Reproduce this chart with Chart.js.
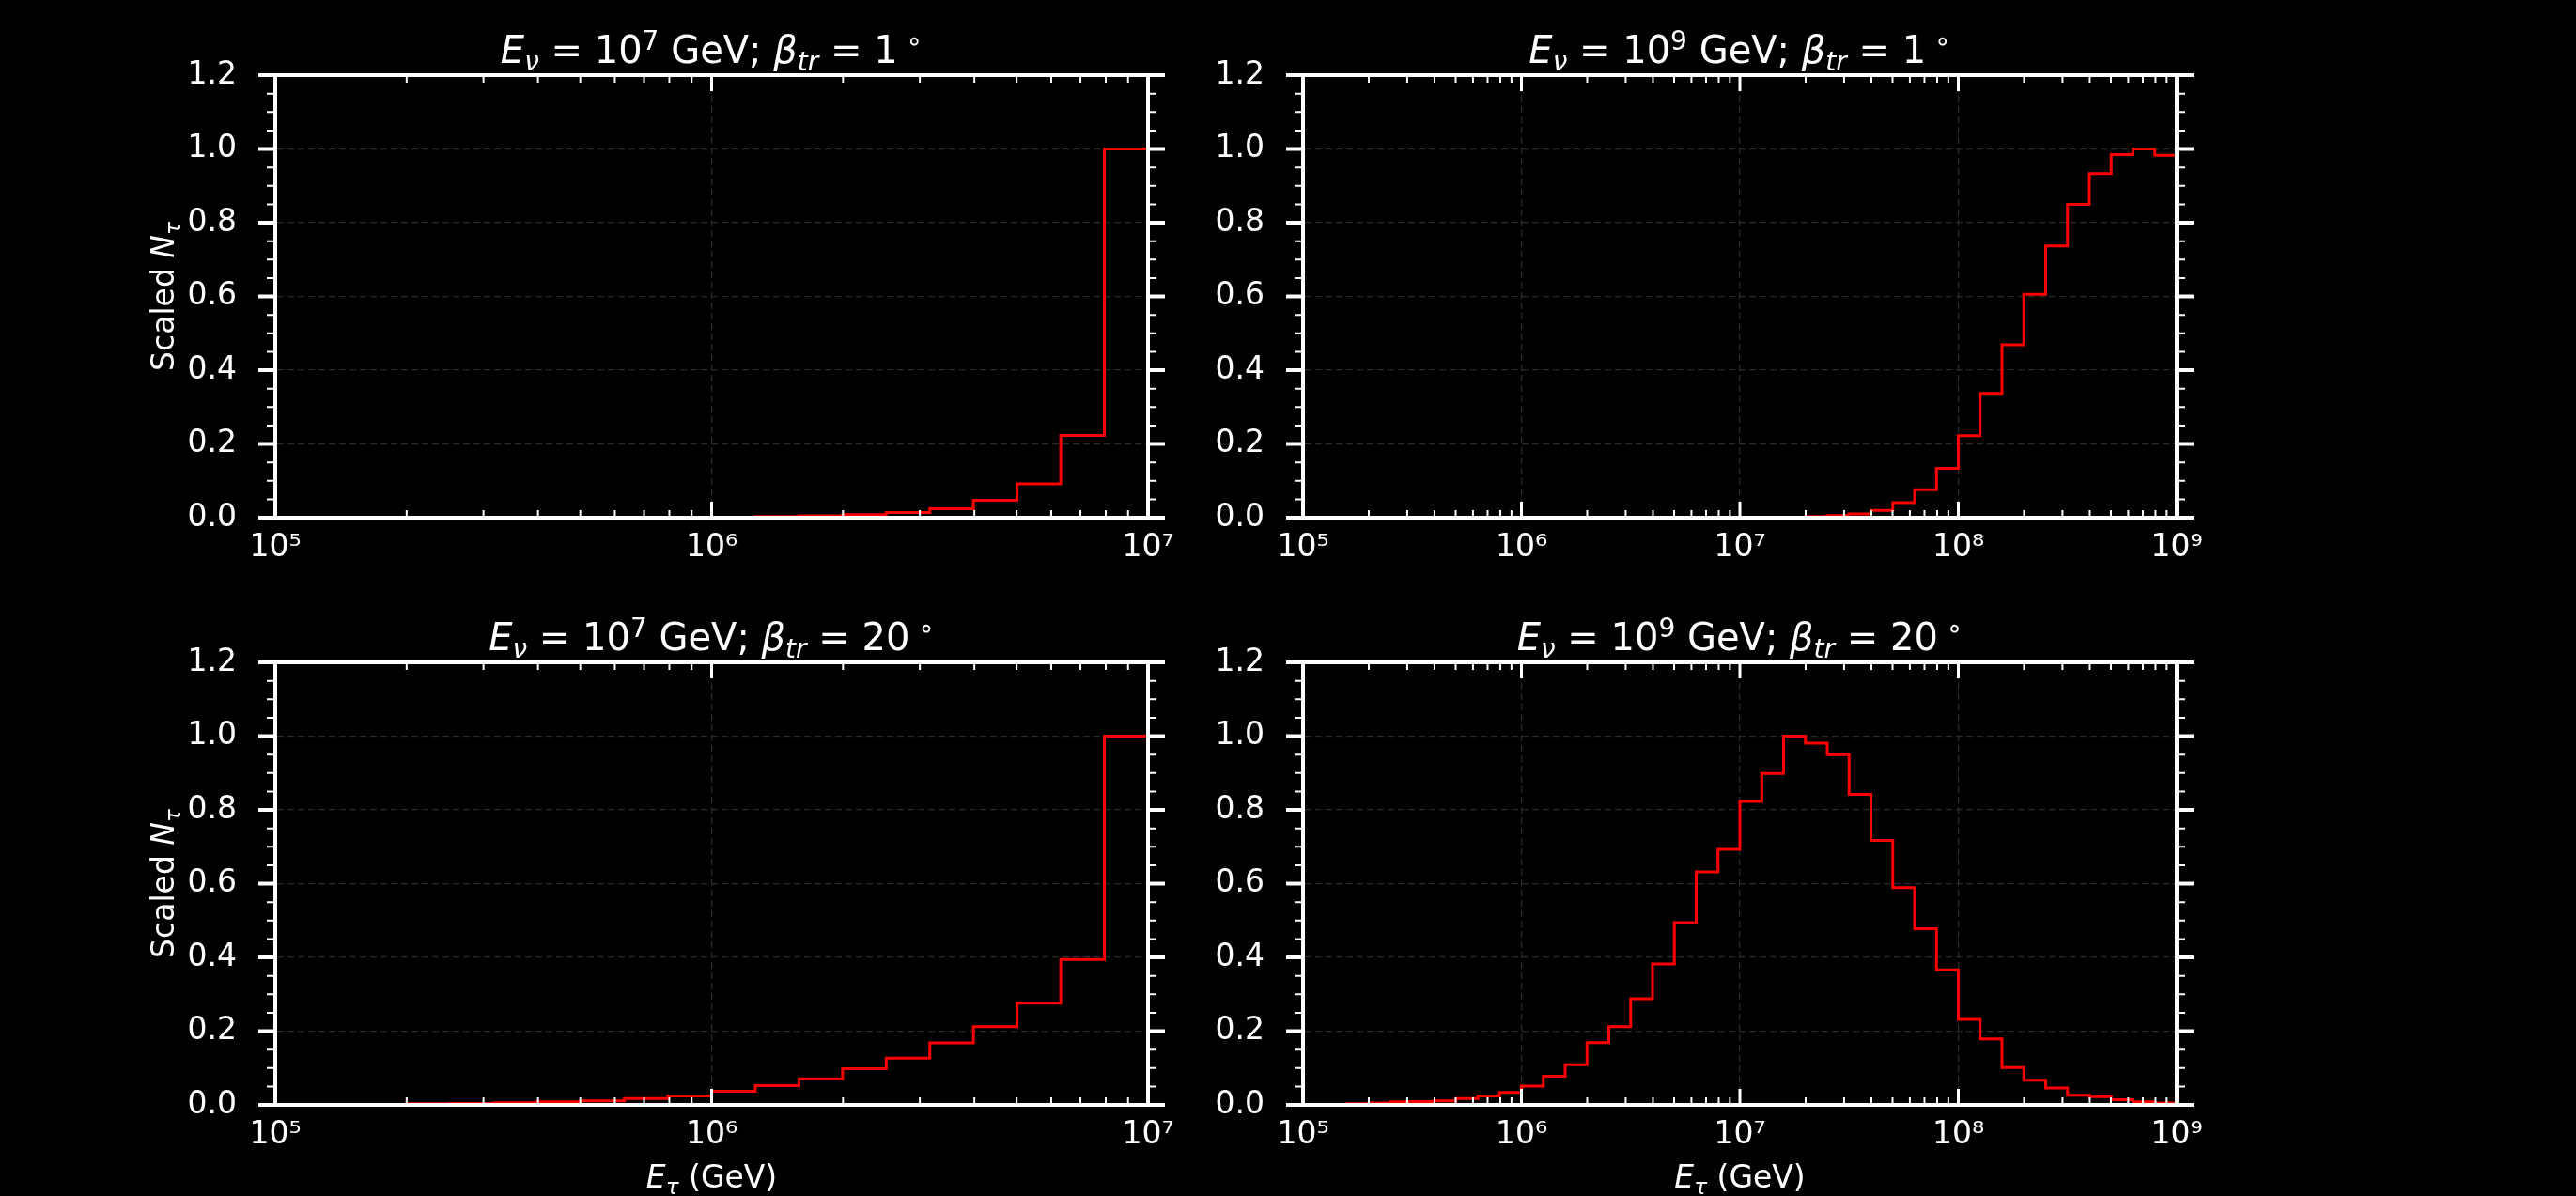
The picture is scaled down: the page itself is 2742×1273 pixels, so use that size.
<!DOCTYPE html>
<html>
<head>
<meta charset="utf-8">
<title>Scaled N_tau histograms</title>
<script src="https://cdn.jsdelivr.net/npm/chart.js@4.4.0/dist/chart.umd.min.js"></script>
<style>
  html, body { margin: 0; padding: 0; background: #000; overflow: hidden; }
  #wrap { position: relative; width: 2742px; height: 1273px; }
  #wrap canvas { position: absolute; left: 0; top: 0; }
</style>
</head>
<body>
<div id="wrap">
  <canvas id="tl" width="2742" height="1273"></canvas>
  <canvas id="tr" width="2742" height="1273"></canvas>
  <canvas id="bl" width="2742" height="1273"></canvas>
  <canvas id="br" width="2742" height="1273"></canvas>
</div>
<script>
// ---- data ----
// histogram bins are 0.1 dex wide in log10(E_tau / GeV)
const BIN_DEX = 0.1;

// E_nu = 1e7 GeV, beta_tr = 1 deg  (first bin starts at 10^6.0)
const tlStart = 6.0;
const tlValues = [0.001, 0.003, 0.005, 0.008, 0.014, 0.024, 0.047, 0.092, 0.223, 1.0];

// E_nu = 1e9 GeV, beta_tr = 1 deg  (first bin starts at 10^7.1)
const trStart = 7.1;
const trValues = [0.0005, 0.001, 0.003, 0.006, 0.010, 0.020, 0.041, 0.076, 0.134, 0.222,
                  0.337, 0.469, 0.606, 0.737, 0.850, 0.933, 0.985, 1.0, 0.983];

// E_nu = 1e7 GeV, beta_tr = 20 deg  (first bin starts at 10^5.2)
const blStart = 5.2;
const blValues = [0.001, 0.003, 0.004, 0.006, 0.008, 0.011, 0.017, 0.024, 0.037, 0.052,
                  0.071, 0.098, 0.127, 0.168, 0.212, 0.276, 0.394, 1.0];

// E_nu = 1e9 GeV, beta_tr = 20 deg  (first bin starts at 10^5.0)
const brStart = 5.0;
const brValues = [0.0005, 0.001, 0.003, 0.005, 0.008, 0.009, 0.011, 0.017, 0.024, 0.034,
                  0.051, 0.078, 0.109, 0.169, 0.212, 0.288, 0.382, 0.494, 0.632, 0.693,
                  0.823, 0.899, 1.0, 0.981, 0.950, 0.842, 0.717, 0.589, 0.478, 0.366,
                  0.232, 0.179, 0.101, 0.067, 0.046, 0.026, 0.022, 0.014, 0.008, 0.005];

// axis ticks
const xDecadesLow = [5, 6, 7];
const xTickLabelsLow = ['10⁵', '10⁶', '10⁷'];
const xDecadesHigh = [5, 6, 7, 8, 9];
const xTickLabelsHigh = ['10⁵', '10⁶', '10⁷', '10⁸', '10⁹'];
const yTickValues = [0, 0.2, 0.4, 0.6, 0.8, 1.0, 1.2];
const yTickLabels = ['0.0', '0.2', '0.4', '0.6', '0.8', '1.0', '1.2'];
const yMinorStep = 0.05;

// panel titles: E_nu exponent and beta_tr angle
const nuExponents = ['7', '9', '7', '9'];
const trAngles = ['1', '1', '20', '20'];

// ---- layout / style ----
const W = 2742, H = 1273;
const FAMILY = '"DejaVu Sans", sans-serif';
const TICK_SIZE = 33;
const TITLE_SIZE = 40;
const LABEL_SIZE = 33;
const GRID_COLOR = '#2a2a2a';
const Y_W = 140, Y2_W = 4, X_H = 60, X2_H = 4;

function titleSegs(exp, angle) {
    return [
        { t: 'E', it: true }, { t: 'ν', it: true, sub: true },
        { t: ' = 10' }, { t: exp, sup: true },
        { t: ' GeV; ' },
        { t: 'β', it: true }, { t: 'tr', it: true, sub: true },
        { t: ' = ' + angle }, { t: ' ∘', sup: true }
    ];
}
const yLabelSegs = [{ t: 'Scaled ' }, { t: 'N', it: true }, { t: 'τ', it: true, sub: true }];
const xLabelSegs = [{ t: 'E', it: true }, { t: 'τ', it: true, sub: true }, { t: ' (GeV)' }];

function drawRich(ctx, segs, x, y, size) {
    let total = 0;
    const parts = segs.map(s => {
        const fs = (s.sup || s.sub) ? size * 0.7 : size;
        const font = (s.it ? 'italic ' : '') + fs + 'px ' + FAMILY;
        ctx.font = font;
        const w = ctx.measureText(s.t).width;
        total += w;
        return { t: s.t, font, w, dy: s.sup ? -0.36 * size : (s.sub ? 0.2 * size : 0) };
    });
    let cx = x - total / 2;
    ctx.textAlign = 'left';
    ctx.textBaseline = 'alphabetic';
    ctx.fillStyle = '#fff';
    parts.forEach(p => {
        ctx.font = p.font;
        ctx.fillText(p.t, cx, y + p.dy);
        cx += p.w;
    });
}

function logTicks(decades) {
    const out = [];
    for (let i = 0; i < decades.length; i++) {
        const base = Math.pow(10, decades[i]);
        out.push({ value: base, major: true });
        if (i < decades.length - 1) {
            for (let m = 2; m <= 9; m++) out.push({ value: m * base, major: false });
        }
    }
    return out;
}

function linTicks() {
    const out = [];
    const n = Math.round(1.2 / yMinorStep);
    for (let i = 0; i <= n; i++) {
        const v = Math.round(i * yMinorStep * 100) / 100;
        out.push({ value: v, major: i % 4 === 0 });
    }
    return out;
}

// ticks: x ticks point into the axes, y ticks point outward (both sides)
const frameTicks = {
    id: 'frameTicks',
    afterDraw(chart) {
        const ctx = chart.ctx, ca = chart.chartArea;
        const xs = chart.scales.x, ys = chart.scales.y;
        ctx.save();
        ctx.strokeStyle = '#fff';
        xs.ticks.forEach(t => {
            const px = xs.getPixelForValue(t.value);
            const len = t.major ? 17 : 8;
            ctx.lineWidth = t.major ? 3 : 2;
            ctx.beginPath();
            ctx.moveTo(px, ca.bottom); ctx.lineTo(px, ca.bottom - len);
            ctx.moveTo(px, ca.top); ctx.lineTo(px, ca.top + len);
            ctx.stroke();
        });
        ys.ticks.forEach(t => {
            const py = ys.getPixelForValue(t.value);
            const len = t.major ? 18 : 9;
            ctx.lineWidth = t.major ? 4 : 2;
            ctx.beginPath();
            ctx.moveTo(ca.left, py); ctx.lineTo(ca.left - len, py);
            ctx.moveTo(ca.right, py); ctx.lineTo(ca.right + len, py);
            ctx.stroke();
        });
        const o = chart.options.plugins.frameTicks;
        drawRich(ctx, o.title, (ca.left + ca.right) / 2, ca.top - 13, TITLE_SIZE);
        if (o.yLabel) {
            ctx.save();
            ctx.translate(185, (ca.top + ca.bottom) / 2);
            ctx.rotate(-Math.PI / 2);
            drawRich(ctx, yLabelSegs, 0, 0, LABEL_SIZE);
            ctx.restore();
        }
        if (o.xLabel) {
            drawRich(ctx, xLabelSegs, (ca.left + ca.right) / 2, 1264, LABEL_SIZE);
        }
        ctx.restore();
    }
};

function makePanel(p) {
    const edge = i => Math.pow(10, Math.round((p.start + i * BIN_DEX) * 10) / 10);
    const n = p.values.length;
    const pts = [{ x: edge(0), y: 0 }];
    p.values.forEach((v, i) => pts.push({ x: edge(i), y: v }));
    pts.push({ x: edge(n), y: p.values[n - 1] });
    pts.push({ x: edge(n), y: 0 });

    const xMin = Math.pow(10, p.decades[0]);
    const xMax = Math.pow(10, p.decades[p.decades.length - 1]);
    const tickFont = { family: FAMILY, size: TICK_SIZE };

    return new Chart(document.getElementById(p.id), {
        type: 'line',
        data: {
            datasets: [{
                data: pts,
                borderColor: '#ff0000',
                borderWidth: 3,
                pointRadius: 0,
                stepped: 'before',
                fill: false,
                tension: 0
            }]
        },
        options: {
            responsive: false,
            animation: false,
            devicePixelRatio: 1,
            events: [],
            layout: {
                padding: {
                    left: p.box.l - Y_W,
                    right: W - p.box.r - Y2_W,
                    top: p.box.t - X2_H,
                    bottom: H - p.box.b - X_H
                }
            },
            plugins: {
                legend: { display: false },
                tooltip: { enabled: false },
                frameTicks: { title: p.title, yLabel: p.yLabel, xLabel: p.xLabel }
            },
            scales: {
                x: {
                    type: 'logarithmic',
                    position: 'bottom',
                    min: xMin, max: xMax,
                    afterBuildTicks: s => { s.ticks = logTicks(p.decades); },
                    afterFit: s => { s.height = X_H; },
                    ticks: {
                        autoSkip: false, maxRotation: 0, minRotation: 0,
                        padding: 13, color: '#fff', font: tickFont,
                        callback: (v, i, t) => {
                            if (!t[i].major) return '';
                            const k = p.decades.indexOf(Math.round(Math.log10(v)));
                            return p.xLabels[k];
                        }
                    },
                    grid: {
                        drawTicks: false,
                        lineWidth: 1.3,
                        color: c => (c.tick && c.tick.major) ? GRID_COLOR : 'rgba(0,0,0,0)'
                    },
                    border: { color: '#fff', width: 4, dash: [7, 4], z: 1 }
                },
                x2: {
                    type: 'logarithmic',
                    position: 'top',
                    min: xMin, max: xMax,
                    afterFit: s => { s.height = X2_H; },
                    ticks: { display: false },
                    grid: { display: false, drawTicks: false },
                    border: { color: '#fff', width: 4, z: 1 }
                },
                y: {
                    type: 'linear',
                    position: 'left',
                    min: 0, max: 1.2,
                    afterBuildTicks: s => { s.ticks = linTicks(); },
                    afterFit: s => { s.width = Y_W; },
                    ticks: {
                        autoSkip: false, padding: 41, color: '#fff', font: tickFont,
                        callback: (v, i, t) => {
                            if (!t[i].major) return '';
                            const k = yTickValues.findIndex(y => Math.abs(y - v) < 1e-6);
                            return yTickLabels[k];
                        }
                    },
                    grid: {
                        drawTicks: false,
                        lineWidth: 1.3,
                        color: c => (c.tick && c.tick.major) ? GRID_COLOR : 'rgba(0,0,0,0)'
                    },
                    border: { color: '#fff', width: 4, dash: [7, 4], z: 1 }
                },
                y2: {
                    type: 'linear',
                    position: 'right',
                    min: 0, max: 1.2,
                    afterFit: s => { s.width = Y2_W; },
                    ticks: { display: false },
                    grid: { display: false, drawTicks: false },
                    border: { color: '#fff', width: 4, z: 1 }
                }
            }
        },
        plugins: [frameTicks]
    });
}

const panels = [
    { id: 'tl', box: { l: 293, r: 1222, t: 80, b: 551 }, decades: xDecadesLow, xLabels: xTickLabelsLow,
      start: tlStart, values: tlValues, title: titleSegs(nuExponents[0], trAngles[0]), yLabel: true, xLabel: false },
    { id: 'tr', box: { l: 1387, r: 2317, t: 80, b: 551 }, decades: xDecadesHigh, xLabels: xTickLabelsHigh,
      start: trStart, values: trValues, title: titleSegs(nuExponents[1], trAngles[1]), yLabel: false, xLabel: false },
    { id: 'bl', box: { l: 293, r: 1222, t: 705, b: 1176 }, decades: xDecadesLow, xLabels: xTickLabelsLow,
      start: blStart, values: blValues, title: titleSegs(nuExponents[2], trAngles[2]), yLabel: true, xLabel: true },
    { id: 'br', box: { l: 1387, r: 2317, t: 705, b: 1176 }, decades: xDecadesHigh, xLabels: xTickLabelsHigh,
      start: brStart, values: brValues, title: titleSegs(nuExponents[3], trAngles[3]), yLabel: false, xLabel: true }
];

panels.forEach(makePanel);
</script>
</body>
</html>
